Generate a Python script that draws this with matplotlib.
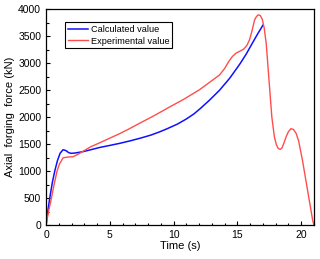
import matplotlib.pyplot as plt
from matplotlib.ticker import MultipleLocator

plt.rcParams['font.family'] = ['Liberation Sans', 'DejaVu Sans']

# Calculated curve (blue)
t_calc = [0, 0.15, 0.3, 0.5, 0.7, 0.9, 1.1, 1.33, 1.55, 1.75, 1.95, 2.3, 2.9, 3.5,
          4.2, 5.0, 5.8, 6.6, 7.4, 8.2, 8.9, 9.5, 10.3, 11.0, 11.6, 12.1, 12.8, 13.6,
          14.4, 15.2, 15.7, 16.2, 16.6, 17.0]
f_calc = [0, 280, 520, 800, 1020, 1200, 1330, 1395, 1380, 1345, 1328, 1335, 1360, 1395,
          1437, 1475, 1515, 1560, 1610, 1665, 1726, 1785, 1870, 1965, 2060, 2160, 2310,
          2497, 2720, 2985, 3170, 3380, 3545, 3700]

# Experimental curve (red)
t_exp = [0, 0.2, 0.42, 0.6, 0.86, 1.05, 1.33, 1.7, 2.1, 2.5, 3.0, 3.5, 4.2, 5.0, 5.8,
         6.5, 7.3, 8.5, 9.7, 10.8, 12.05, 12.8, 13.6, 14.0, 14.3, 14.6, 14.9, 15.2,
         15.5, 15.75, 15.95, 16.15, 16.34, 16.45, 16.55, 16.65, 16.8, 16.95, 17.1,
         17.26, 17.5, 17.7, 17.9, 18.05, 18.2, 18.35, 18.5, 18.65, 18.83, 19.0, 19.2,
         19.4, 19.6, 19.8, 20.1, 20.5, 20.9, 21.0]
f_exp = [0, 260, 500, 720, 1000, 1130, 1245, 1260, 1265, 1310, 1380, 1450, 1523, 1610,
         1696, 1780, 1881, 2030, 2189, 2330, 2510, 2640, 2780, 2900, 3020, 3120, 3185,
         3220, 3260, 3330, 3430, 3600, 3792, 3845, 3875, 3893, 3880, 3810, 3650,
         3360, 2620, 2000, 1634, 1490, 1420, 1400, 1430, 1520, 1640, 1730, 1785,
         1770, 1700, 1560, 1202, 647, 92, 0]

fig = plt.figure(figsize=(3.2, 2.59), dpi=100, facecolor='w')
ax = fig.add_axes([0.144, 0.131, 0.837, 0.834])

ax.plot(t_calc, f_calc, color='#1010ff', lw=1.1, label='Calculated value')
ax.plot(t_exp, f_exp, color='#ff4d4d', lw=1.0, label='Experimental value')

ax.set_xlim(0, 21)
ax.set_ylim(0, 4000)
ax.xaxis.set_major_locator(MultipleLocator(5))
ax.xaxis.set_minor_locator(MultipleLocator(1))
ax.yaxis.set_major_locator(MultipleLocator(500))
ax.yaxis.set_minor_locator(MultipleLocator(250))
ax.tick_params(which='both', direction='in', labelsize=7.5, width=0.8)
ax.tick_params(which='major', length=3)
ax.tick_params(which='minor', length=1.8)
for spine in ax.spines.values():
    spine.set_linewidth(0.9)

ax.set_xlabel('Time (s)', fontsize=8, labelpad=1)
ax.set_ylabel('Axial  forging  force (kN)', fontsize=8, labelpad=2)

legend = ax.legend(loc='upper left', bbox_to_anchor=(0.07, 0.94), borderaxespad=0,
                   fontsize=6.6, fancybox=False, framealpha=1, handlelength=2.2,
                   handletextpad=0.35, borderpad=0.3, labelspacing=0.3)
legend.get_frame().set_edgecolor('black')
legend.get_frame().set_linewidth(0.8)

fig.savefig('out.png', dpi=100)
